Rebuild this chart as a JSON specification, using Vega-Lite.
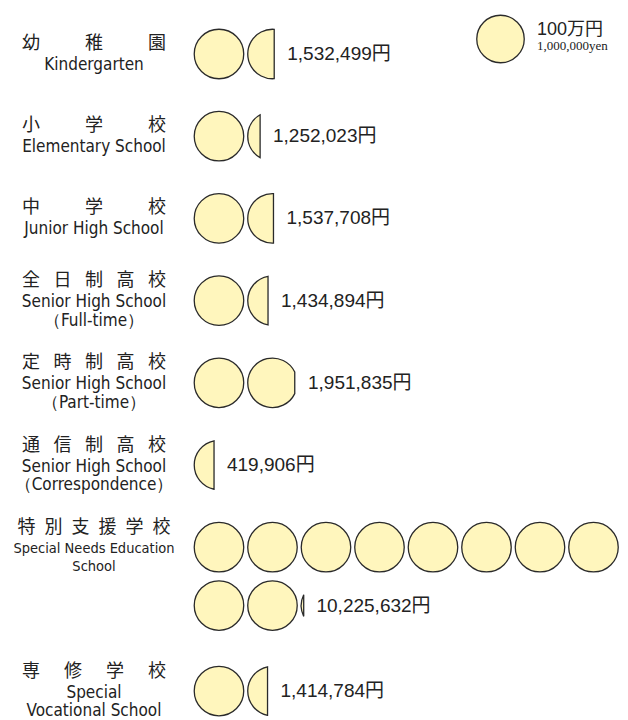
{
  "$schema": "https://vega.github.io/schema/vega-lite/v6.json",
  "width": 628,
  "height": 720,
  "padding": 0,
  "autosize": {"type": "none"},
  "background": "#ffffff",
  "config": {"view": {"stroke": null}},
  "datasets": {
    "rows": [
      {"ord": 0, "jp": "幼\u2003\u2003\u2002稚\u2003\u2003\u2002園", "en": "Kindergarten", "amount": 1532499},
      {"ord": 1, "jp": "小\u2003\u2003\u2002学\u2003\u2003\u2002校", "en": "Elementary School", "amount": 1252023},
      {"ord": 2, "jp": "中\u2003\u2003\u2002学\u2003\u2003\u2002校", "en": "Junior High School", "amount": 1537708},
      {"ord": 3, "jp": "全\u2002\u2005日\u2002\u2005制\u2002\u2005高\u2002\u2005校", "en": "Senior High School\n（Full-time）", "amount": 1434894},
      {"ord": 4, "jp": "定\u2002\u2005時\u2002\u2005制\u2002\u2005高\u2002\u2005校", "en": "Senior High School\n（Part-time）", "amount": 1951835},
      {"ord": 5, "jp": "通\u2002\u2005信\u2002\u2005制\u2002\u2005高\u2002\u2005校", "en": "Senior High School\n（Correspondence）", "amount": 419906},
      {"ord": 6, "jp": "特\u2002別\u2002支\u2002援\u2002学\u2002校", "en": "Special Needs Education\nSchool", "amount": 10225632},
      {"ord": 7, "jp": "専\u2003\u2004修\u2003\u2004学\u2003\u2004校", "en": "Special\nVocational School", "amount": 1414784}
    ],
    "circles": [
      {"ord": 0, "i": 1, "frac": 1}, {"ord": 0, "i": 2, "frac": 0.535},
      {"ord": 1, "i": 1, "frac": 1}, {"ord": 1, "i": 2, "frac": 0.25},
      {"ord": 2, "i": 1, "frac": 1}, {"ord": 2, "i": 2, "frac": 0.52},
      {"ord": 3, "i": 1, "frac": 1}, {"ord": 3, "i": 2, "frac": 0.41},
      {"ord": 4, "i": 1, "frac": 1}, {"ord": 4, "i": 2, "frac": 0.95},
      {"ord": 5, "i": 1, "frac": 0.4},
      {"ord": 6, "i": 1, "frac": 1}, {"ord": 6, "i": 2, "frac": 1}, {"ord": 6, "i": 3, "frac": 1},
      {"ord": 6, "i": 4, "frac": 1}, {"ord": 6, "i": 5, "frac": 1}, {"ord": 6, "i": 6, "frac": 1},
      {"ord": 6, "i": 7, "frac": 1}, {"ord": 6, "i": 8, "frac": 1}, {"ord": 6, "i": 9, "frac": 1},
      {"ord": 6, "i": 10, "frac": 1}, {"ord": 6, "i": 11, "frac": 0.05},
      {"ord": 7, "i": 1, "frac": 1}, {"ord": 7, "i": 2, "frac": 0.4}
    ],
    "legend": [
      {"label": "100万円", "sub": "1,000,000yen"}
    ]
  },
  "layer": [
    {
      "data": {"name": "circles"},
      "transform": [
        {"calculate": "floor((datum.i - 1) / 8)", "as": "line"},
        {"calculate": "(datum.i - 1) % 8", "as": "col"},
        {"calculate": "datum.ord + (datum.ord == 7 ? 0.75 : 0) + datum.line * 0.71", "as": "yv"}
      ],
      "mark": {"type": "point", "filled": true, "fill": "#FFF6BD", "stroke": "#2a2a2a", "strokeWidth": 1.3, "opacity": 1, "size": 2450},
      "encoding": {
        "x": {"field": "col", "type": "quantitative", "axis": null, "scale": {"domain": [-4.093, 7.645], "nice": false, "zero": false}},
        "y": {"field": "yv", "type": "quantitative", "axis": null, "scale": {"domain": [-0.657, 8.102], "nice": false, "zero": false, "reverse": true}},
        "shape": {
          "field": "frac", "type": "nominal", "legend": null,
          "scale": {
            "domain": [1, 0.535, 0.25, 0.52, 0.41, 0.95, 0.4, 0.05],
            "range": [
              "circle",
              "M0.07,-0.99755A1,1,0,1,0,0.07,0.99755Z",
              "M-0.5,-0.86603A1,1,0,0,0,-0.5,0.86603Z",
              "M0.04,-0.9992A1,1,0,1,0,0.04,0.9992Z",
              "M-0.18,-0.98367A1,1,0,0,0,-0.18,0.98367Z",
              "M0.9,-0.43589A1,1,0,1,0,0.9,0.43589Z",
              "M-0.2,-0.9798A1,1,0,0,0,-0.2,0.9798Z",
              "M-0.9,-0.43589A1,1,0,0,0,-0.9,0.43589Z"
            ]
          }
        }
      }
    },
    {
      "data": {"name": "circles"},
      "transform": [
        {"joinaggregate": [{"op": "max", "field": "i", "as": "maxi"}], "groupby": ["ord"]},
        {"filter": "datum.i == datum.maxi"},
        {"lookup": "ord", "from": {"data": {"name": "rows"}, "key": "ord", "fields": ["amount"]}},
        {"calculate": "floor((datum.i - 1) / 8)", "as": "line"},
        {"calculate": "(datum.i - 1) % 8", "as": "col"},
        {"calculate": "datum.ord + (datum.ord == 7 ? 0.75 : 0) + datum.line * 0.71", "as": "yv"},
        {"calculate": "datum.col + (datum.frac * 50 - 12) / 53.5", "as": "xt"},
        {"calculate": "format(datum.amount, ',') + '円'", "as": "label"}
      ],
      "mark": {"type": "text", "align": "left", "baseline": "middle", "fontSize": 19, "font": "Liberation Sans, Noto Sans CJK JP", "color": "#222222"},
      "encoding": {
        "x": {"field": "xt", "type": "quantitative", "axis": null, "scale": {"domain": [-4.093, 7.645], "nice": false, "zero": false}},
        "y": {"field": "yv", "type": "quantitative", "axis": null, "scale": {"domain": [-0.657, 8.102], "nice": false, "zero": false, "reverse": true}},
        "text": {"field": "label", "type": "nominal"}
      }
    },
    {
      "data": {"name": "rows"},
      "transform": [
        {"calculate": "datum.ord + (datum.ord == 7 ? 0.75 : 0)", "as": "yb"},
        {"calculate": "length(split(datum.en, '\\n'))", "as": "n"},
        {"calculate": "datum.yb - (9.5 * datum.n + 0.5) / 82.2", "as": "jy"}
      ],
      "mark": {"type": "text", "align": "center", "baseline": "middle", "fontSize": 18, "font": "Noto Sans CJK JP", "color": "#222222"},
      "encoding": {
        "x": {"datum": -2.336, "type": "quantitative", "axis": null, "scale": {"domain": [-4.093, 7.645], "nice": false, "zero": false}},
        "y": {"field": "jy", "type": "quantitative", "axis": null, "scale": {"domain": [-0.657, 8.102], "nice": false, "zero": false, "reverse": true}},
        "text": {"field": "jp", "type": "nominal"}
      }
    },
    {
      "data": {"name": "rows"},
      "transform": [
        {"calculate": "datum.ord + (datum.ord == 7 ? 0.75 : 0)", "as": "yb"},
        {"calculate": "length(split(datum.en, '\\n'))", "as": "n"},
        {"calculate": "datum.yb - (9.5 * datum.n - 20.5) / 82.2", "as": "ey"}
      ],
      "mark": {"type": "text", "align": "center", "baseline": "middle", "lineHeight": 18.5, "lineBreak": "\n", "font": "DejaVu Sans Condensed, sans-serif", "color": "#222222"},
      "encoding": {
        "x": {"datum": -2.336, "type": "quantitative", "axis": null, "scale": {"domain": [-4.093, 7.645], "nice": false, "zero": false}},
        "y": {"field": "ey", "type": "quantitative", "axis": null, "scale": {"domain": [-0.657, 8.102], "nice": false, "zero": false, "reverse": true}},
        "size": {"condition": {"test": "datum.ord == 6", "value": 14.5}, "value": 17},
        "text": {"field": "en", "type": "nominal"}
      }
    },
    {
      "data": {"name": "legend"},
      "mark": {"type": "point", "shape": "circle", "filled": true, "fill": "#FFF6BD", "stroke": "#2a2a2a", "strokeWidth": 1.3, "opacity": 1, "size": 2256},
      "encoding": {
        "x": {"datum": 5.262, "type": "quantitative", "axis": null, "scale": {"domain": [-4.093, 7.645], "nice": false, "zero": false}},
        "y": {"datum": -0.1825, "type": "quantitative", "axis": null, "scale": {"domain": [-0.657, 8.102], "nice": false, "zero": false, "reverse": true}}
      }
    },
    {
      "data": {"name": "legend"},
      "mark": {"type": "text", "align": "left", "baseline": "middle", "fontSize": 18, "font": "Liberation Sans, Noto Sans CJK JP", "color": "#222222"},
      "encoding": {
        "x": {"datum": 5.944, "type": "quantitative", "axis": null, "scale": {"domain": [-4.093, 7.645], "nice": false, "zero": false}},
        "y": {"datum": -0.297, "type": "quantitative", "axis": null, "scale": {"domain": [-0.657, 8.102], "nice": false, "zero": false, "reverse": true}},
        "text": {"field": "label", "type": "nominal"}
      }
    },
    {
      "data": {"name": "legend"},
      "mark": {"type": "text", "align": "left", "baseline": "middle", "fontSize": 13, "font": "Liberation Serif, serif", "color": "#222222"},
      "encoding": {
        "x": {"datum": 5.944, "type": "quantitative", "axis": null, "scale": {"domain": [-4.093, 7.645], "nice": false, "zero": false}},
        "y": {"datum": -0.103, "type": "quantitative", "axis": null, "scale": {"domain": [-0.657, 8.102], "nice": false, "zero": false, "reverse": true}},
        "text": {"field": "sub", "type": "nominal"}
      }
    }
  ]
}
